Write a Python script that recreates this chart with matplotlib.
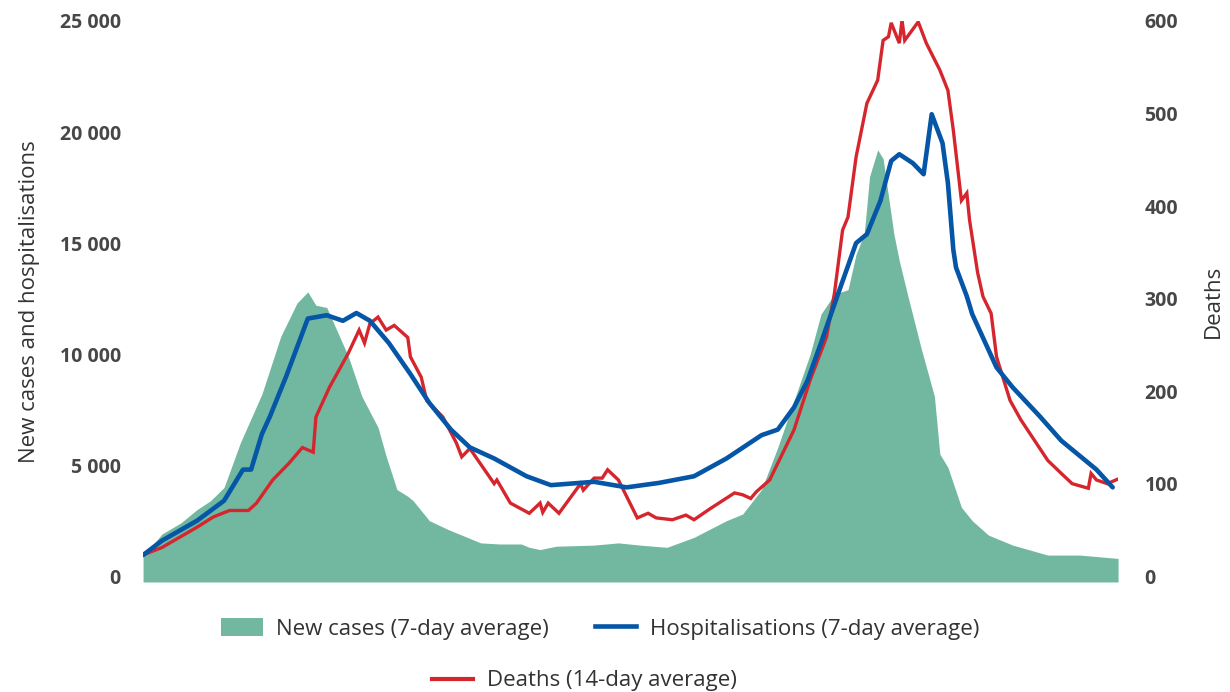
from matplotlib import pyplot as plt
from matplotlib.patches import Patch
from matplotlib.lines import Line2D
from matplotlib.ticker import FuncFormatter

# --------------------------- Data ---------------------------
# x values are days from the start of the period

case_days = [0, 7, 14, 20, 25, 30, 36, 44, 51, 57, 61, 64, 68, 76, 81, 87, 90, 94,
             98, 100, 106, 113, 119, 125, 132, 140, 143, 147, 153, 167, 176, 184,
             194, 204, 216, 222, 229, 235, 241, 247, 251, 256, 261, 264, 267, 269,
             272, 274, 278, 280, 283, 288, 293, 295, 298, 303, 307, 313, 322, 335,
             347, 361]
new_cases = [900, 1900, 2400, 3000, 3400, 4000, 6000, 8200, 10800, 12300, 12800,
             12200, 12100, 9900, 8100, 6700, 5400, 3900, 3600, 3400, 2500, 2100,
             1800, 1500, 1450, 1450, 1300, 1200, 1350, 1400, 1500, 1400, 1300,
             1750, 2500, 2800, 3900, 5800, 7900, 10000, 11800, 12700, 12900,
             14500, 15400, 18000, 19200, 18800, 15400, 14200, 12700, 10300, 8100,
             5500, 4900, 3100, 2500, 1850, 1400, 950, 950, 800]

hosp_days = [0, 7, 20, 30, 37, 40, 44, 47, 50, 53, 57, 61, 68, 74, 79, 84, 91, 99,
             106, 114, 121, 130, 142, 151, 167, 179, 191, 204, 216, 229, 235, 241,
             246, 251, 257, 264, 268, 273, 277, 280, 285, 289, 292, 296, 298, 300,
             301, 305, 307, 316, 322, 332, 340, 347, 353, 359]
hospitalisations = [950, 1600, 2500, 3400, 4800, 4800, 6400, 7200, 8100, 9000,
                    10300, 11600, 11750, 11500, 11850, 11500, 10500, 9100, 7800,
                    6600, 5800, 5300, 4500, 4100, 4250, 4000, 4200, 4500, 5300,
                    6350, 6600, 7600, 8800, 10500, 12600, 15000, 15400, 16900,
                    18700, 19000, 18600, 18100, 20800, 19500, 17700, 14700, 13900,
                    12600, 11800, 9400, 8500, 7200, 6100, 5400, 4800, 4000]

death_days = [0, 7, 20, 26, 32, 39, 42, 48, 54, 59, 63, 64, 69, 76, 80, 82, 84, 87,
              90, 93, 98, 99, 103, 105, 111, 116, 118, 121, 130, 131, 136, 143,
              147, 148, 150, 154, 162, 163, 167, 170, 172, 176, 183, 187, 190, 196,
              201, 204, 210, 219, 222, 225, 227, 232, 241, 247, 253, 256, 259, 261,
              264, 268, 272, 274, 276, 277, 280, 281, 282, 287, 290, 295, 298, 300,
              303, 305, 306, 309, 311, 314, 316, 321, 325, 330, 335, 340, 344, 350,
              351, 353, 357, 361]
deaths = [23, 31, 53, 64, 71, 71, 79, 104, 122, 139, 134, 172, 204, 241, 266, 252,
          273, 280, 266, 271, 258, 237, 215, 190, 172, 144, 129, 138, 100, 104, 79,
          68, 79, 69, 79, 68, 100, 93, 106, 106, 115, 104, 63, 68, 63, 61, 66, 61,
          73, 90, 88, 84, 91, 104, 158, 212, 258, 306, 374, 388, 453, 511, 536,
          579, 583, 598, 576, 601, 579, 599, 576, 547, 525, 482, 406, 414, 385,
          328, 302, 284, 237, 190, 169, 147, 125, 111, 100, 95, 111, 104, 100, 105]

left_ticks = [0, 5000, 10000, 15000, 20000, 25000]
right_ticks = [0, 100, 200, 300, 400, 500, 600]

# ------------------------- Styling --------------------------

GREEN = '#72b8a0'
BLUE = '#0556a6'
RED = '#d5262e'
TICK_GREY = '#474747'
TEXT_GREY = '#333333'

plt.rcParams['font.family'] = ['Open Sans', 'DejaVu Sans']

fig = plt.figure(figsize=(12.3, 6.92), dpi=100)
ax = fig.add_axes([0.1163, 0.159, 0.7927, 0.8107])
ax2 = ax.twinx()

y_low = -260
ax.set_xlim(0, 361)
ax.set_ylim(y_low, 25000)
ax2.set_ylim(y_low * 600 / 25000, 600)

# Cases area sits on the lower (deaths) axes but uses left-axis units,
# so the order is: area < deaths < hospitalisations
ax2.fill_between(case_days, y_low, new_cases, color=GREEN, linewidth=0,
                 transform=ax.transData, zorder=1)
ax2.plot(death_days, deaths, color=RED, linewidth=2.4,
         solid_joinstyle='miter', zorder=2)
ax.plot(hosp_days, hospitalisations, color=BLUE, linewidth=3.3,
        solid_joinstyle='round', solid_capstyle='round', zorder=3)

ax.set_zorder(ax2.get_zorder() + 1)
ax.patch.set_visible(False)

ax.set_yticks(left_ticks)
ax.yaxis.set_major_formatter(FuncFormatter(lambda v, p: '{:,}'.format(int(v)).replace(',', ' ')))
ax2.set_yticks(right_ticks)
ax.set_xticks([])

for a in (ax, ax2):
    for s in a.spines.values():
        s.set_visible(False)
    a.tick_params(axis='y', length=0, labelsize=14, labelcolor=TICK_GREY)
    for lab in a.get_yticklabels():
        lab.set_fontweight('bold')
ax.tick_params(axis='y', pad=16)
ax2.tick_params(axis='y', pad=19)

ax.set_ylabel('New cases and hospitalisations', fontsize=16, color=TEXT_GREY, labelpad=14)
ax2.set_ylabel('Deaths', fontsize=16, color=TEXT_GREY, labelpad=18)

# Legend: two items on the first row, deaths centred below
h_cases = Patch(facecolor=GREEN, edgecolor='none')
h_hosp = Line2D([], [], color=BLUE, linewidth=3.3)
h_death = Line2D([], [], color=RED, linewidth=3)
leg1 = fig.legend([h_cases, h_hosp],
                  ['New cases (7-day average)', 'Hospitalisations (7-day average)'],
                  loc='center', bbox_to_anchor=(0.488, 0.0915), ncol=2, frameon=False,
                  fontsize=16, handlelength=1.85, handleheight=0.9, handletextpad=0.6,
                  columnspacing=2.1, labelcolor=TEXT_GREY)
leg2 = fig.legend([h_death], ['Deaths (14-day average)'],
                  loc='center', bbox_to_anchor=(0.475, 0.016), frameon=False,
                  fontsize=16, handlelength=1.85, handletextpad=0.6,
                  labelcolor=TEXT_GREY)

fig.savefig('out.png', dpi=100)
